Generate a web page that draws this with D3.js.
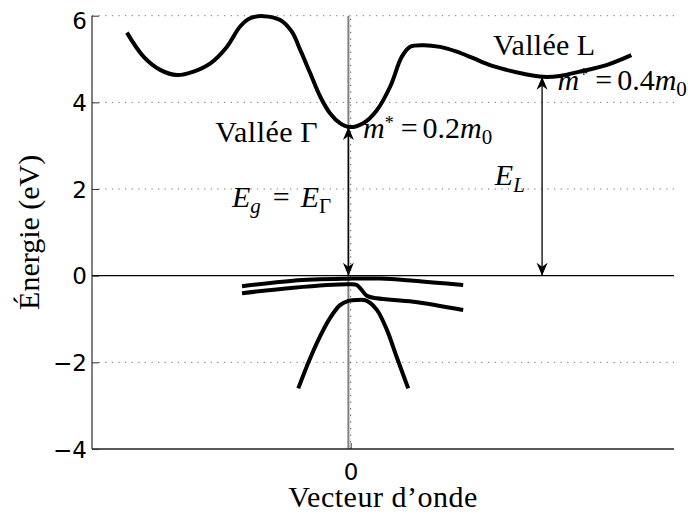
<!DOCTYPE html>
<html><head><meta charset="utf-8">
<script src="https://cdn.jsdelivr.net/npm/d3@7"></script>
<style>html,body{margin:0;padding:0;background:#fff}svg{display:block}</style>
</head><body><svg id="c" width="688" height="514"></svg>
<script>
// ---- data (wave vector k, energy E in eV) ----
const kCond = [-0.692,-0.640,-0.589,-0.537,-0.486,-0.434,-0.383,-0.342,-0.311,-0.270,-0.218,-0.182,-0.156,-0.125,-0.094,-0.064,-0.033,-0.005,0.039,0.081,0.122,0.158,0.183,0.225,0.276,0.328,0.379,0.431,0.482,0.534,0.595,0.647,0.709,0.791,0.868];
const eCond = [5.61,5.05,4.75,4.63,4.71,4.90,5.28,5.75,5.94,5.99,5.90,5.63,5.21,4.67,4.13,3.75,3.52,3.43,3.52,3.82,4.36,5.05,5.28,5.32,5.28,5.17,5.02,4.86,4.75,4.66,4.59,4.61,4.71,4.86,5.09];
const kHH = [-0.336,-0.177,-0.007,0.091,0.194,0.348];
const eHH = [-0.245,-0.115,-0.070,-0.065,-0.115,-0.215];
const kLH = [-0.336,-0.177,-0.007,0.019,0.034,0.050,0.081,0.194,0.348];
const eLH = [-0.406,-0.277,-0.198,-0.215,-0.330,-0.462,-0.522,-0.600,-0.792];
const kSO = [-0.162,-0.136,-0.105,-0.064,-0.033,-0.007,0.019,0.050,0.081,0.112,0.142,0.178];
const eSO = [-2.60,-2.10,-1.56,-0.98,-0.68,-0.58,-0.56,-0.58,-0.79,-1.25,-1.87,-2.60];
const yTicks = [-4,-2,0,2,4,6];
const yGrid = [-2,2,4,6];
const xTicks = [0];
const xDomain = [-0.8,1];
const yDomain = [-4,6];
// arrows: k position, top energy (valley minimum), base energy 0
const arrowK = [-0.007,0.592];
const arrowTop = [3.43,4.59];
const gammaLineK = -0.007;
// annotations (k, E)
const labelK = {valG:-0.419, valL:0.440, m02:0.038, m04:0.640, eg:-0.367, el:0.446};
const labelE = {valG:3.09, valL:5.09, m02:3.18, m04:4.29, eg:1.59, el:2.09};

const W=688,H=514, mg={l:92,r:14,t:15.7,b:65};
const svg=d3.select('#c');
svg.append('rect').attr('width',W).attr('height',H).attr('fill','#fff');
const x=d3.scaleLinear().domain(xDomain).range([mg.l,W-mg.r]);
const y=d3.scaleLinear().domain(yDomain).range([H-mg.b,mg.t]);
const serif="Liberation Serif, Times New Roman, serif";
const sans="DejaVu Sans, Liberation Sans, sans-serif";

// grid
svg.append('g').selectAll('line').data(yGrid).join('line')
  .attr('x1',x(xDomain[0])).attr('x2',x(xDomain[1]))
  .attr('y1',d=>y(d)).attr('y2',d=>y(d))
  .attr('stroke','#777').attr('stroke-width',1).attr('stroke-dasharray','1.3,5.3');
svg.append('g').selectAll('line').data(xTicks).join('line')
  .attr('x1',d=>x(d)).attr('x2',d=>x(d))
  .attr('y1',y(yDomain[0])).attr('y2',y(yDomain[1]))
  .attr('stroke','#555').attr('stroke-width',1).attr('stroke-dasharray','1.3,5.3');

// spines
svg.append('line').attr('x1',x(xDomain[0])).attr('x2',x(xDomain[0]))
  .attr('y1',y(yDomain[0])).attr('y2',y(yDomain[1])).attr('stroke','#808080').attr('stroke-width',2);
svg.append('line').attr('x1',x(gammaLineK)).attr('x2',x(gammaLineK))
  .attr('y1',y(yDomain[0])).attr('y2',y(yDomain[1])).attr('stroke','#808080').attr('stroke-width',2);
svg.append('line').attr('x1',x(xDomain[0])).attr('x2',x(xDomain[1]))
  .attr('y1',y(yDomain[0])).attr('y2',y(yDomain[0])).attr('stroke','#222').attr('stroke-width',1.3);
svg.append('line').attr('x1',x(xDomain[0])).attr('x2',x(xDomain[1]))
  .attr('y1',y(0)).attr('y2',y(0)).attr('stroke','#000').attr('stroke-width',1.3);

// axes
const ya=svg.append('g').attr('transform',`translate(${mg.l},0)`)
  .call(d3.axisLeft(y).tickValues(yTicks).tickSize(-7).tickPadding(5).tickFormat(d=>d<0?'\u2212'+Math.abs(d):String(d)));
ya.select('.domain').remove();
ya.selectAll('line').attr('stroke','#333');
ya.selectAll('text').style('font-family',sans).style('font-size','23px').attr('fill','#000')
  .attr('dy',d=>d===yDomain[1]?'0.55em':'0.35em');
const xa=svg.append('g').attr('transform',`translate(0,${y(yDomain[0])})`)
  .call(d3.axisBottom(x).tickValues(xTicks).tickSize(-6).tickPadding(15).tickFormat(d=>String(d)));
xa.select('.domain').remove();
xa.selectAll('line').attr('stroke','#333');
xa.selectAll('text').style('font-family',sans).style('font-size','23px').attr('fill','#000');

// axis labels
svg.append('text').attr('transform',`translate(39,${(y(yDomain[0])+y(yDomain[1]))/2}) rotate(-90)`)
  .attr('text-anchor','middle').style('font-family',serif).style('font-size','30px').text('Énergie (eV)');
svg.append('text').attr('x',(x(xDomain[0])+x(xDomain[1]))/2).attr('y',507)
  .attr('text-anchor','middle').style('font-family',serif).style('font-size','30px')
  .style('letter-spacing','0.5px').text('Vecteur d\u2019onde');

// bands
const line=d3.line().x(d=>x(d[0])).y(d=>y(d[1])).curve(d3.curveCatmullRom.alpha(0.5));
const bands=[[kCond,eCond],[kHH,eHH],[kLH,eLH],[kSO,eSO]];
svg.append('g').selectAll('path').data(bands).join('path')
  .attr('d',b=>line(b[0].map((k,i)=>[k,b[1][i]])))
  .attr('fill','none').attr('stroke','#000').attr('stroke-width',4).attr('stroke-linejoin','round');

// arrows
const defs=svg.append('defs');
defs.append('marker').attr('id','ah').attr('viewBox','-14 -7 15 14').attr('refX',0).attr('refY',0)
  .attr('markerWidth',15).attr('markerHeight',14).attr('markerUnits','userSpaceOnUse')
  .attr('orient','auto-start-reverse')
  .append('path').attr('d','M0,0 L-13,-5.5 L-9,0 L-13,5.5 Z').attr('fill','#000');
svg.append('g').selectAll('line').data(arrowK).join('line')
  .attr('x1',d=>x(d)).attr('x2',d=>x(d))
  .attr('y1',y(0)).attr('y2',(d,i)=>y(arrowTop[i]))
  .attr('stroke','#000').attr('stroke-width',1.3)
  .attr('marker-start','url(#ah)').attr('marker-end','url(#ah)');

// annotations
function txt(key,parts,size){
  const t=svg.append('text').attr('x',x(labelK[key])).attr('y',y(labelE[key]))
    .style('font-family',serif).style('font-size',size+'px').attr('fill','#000');
  let cur=0;
  parts.forEach(p=>{
    const s=t.append('tspan').text(p.t);
    let target=0, fs=size;
    if(p.sub){target=0.22*size; fs=size*0.7;}
    if(p.sup){target=-0.3*size; fs=size*0.6;}
    s.attr('dy',target-cur).style('font-size',fs+'px');
    if(p.it) s.style('font-style','italic');
    if(p.dx) s.attr('dx',p.dx);
    if(p.ls) s.style('letter-spacing',p.ls+'px');
    cur=target;
  });
}
txt('valG',[{t:'Vallée',ls:0.5},{t:'Γ',dx:7}],30);
txt('valL',[{t:'Vallée',ls:0.3},{t:'L',dx:7}],30);
txt('m02',[{t:'m',it:1},{t:'*',sup:1},{t:'=',dx:7},{t:'0.2',dx:5},{t:'m',it:1},{t:'0',sub:1}],30);
txt('m04',[{t:'m',it:1},{t:'*',sup:1},{t:'=',dx:7},{t:'0.4',dx:5},{t:'m',it:1},{t:'0',sub:1}],30);
txt('eg',[{t:'E',it:1},{t:'g',it:1,sub:1},{t:'=',dx:12},{t:'E',it:1,dx:11},{t:'Γ',sub:1}],30);
txt('el',[{t:'E',it:1},{t:'L',it:1,sub:1}],30);
</script></body></html>
